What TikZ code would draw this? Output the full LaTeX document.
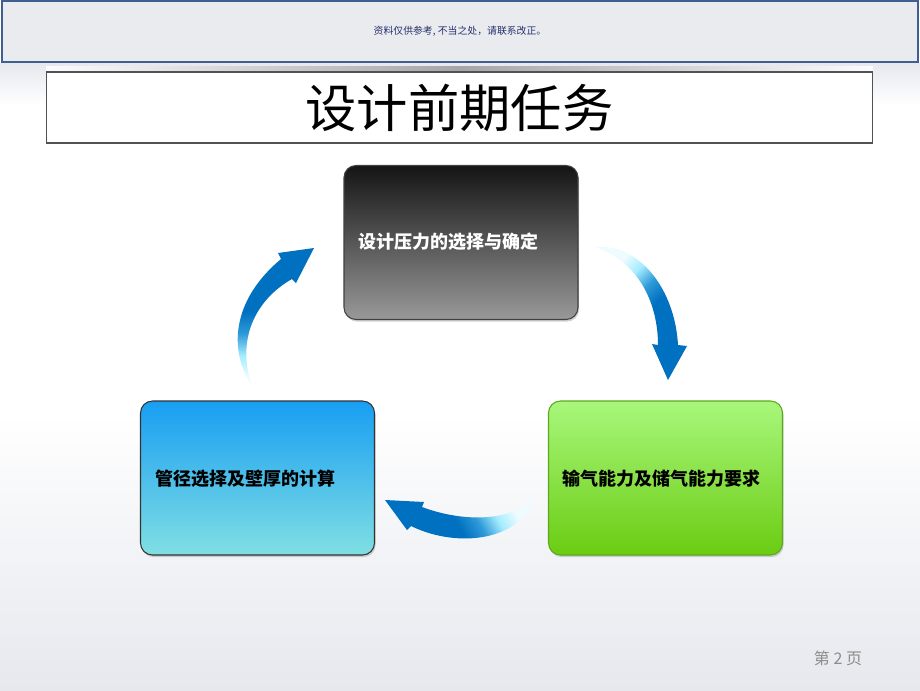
\documentclass[tikz,border=0pt]{standalone}
\usepackage{fontspec}
\newfontfamily\cjk{Noto Sans CJK SC}
\usetikzlibrary{shadows}
\definecolor{arrowblue}{HTML}{0070C0}
\definecolor{arrowmid}{HTML}{2E9AD8}
\definecolor{arrowlight}{HTML}{A6ECFF}
\definecolor{arrowpale}{HTML}{EEFCFF}
\definecolor{bgbot}{HTML}{E6E8EE}
\definecolor{headerfill}{HTML}{E9EBEF}
\definecolor{headerblue}{HTML}{3E5F90}
\definecolor{notecolor}{HTML}{26306A}
\definecolor{pagegrey}{HTML}{8C8C8C}
\pgfdeclareverticalshading{arrowshade}{100bp}{color(0bp)=(arrowblue); color(25bp)=(arrowblue); color(48bp)=(arrowblue); color(56bp)=(arrowmid); color(64bp)=(arrowlight); color(72bp)=(arrowpale); color(100bp)=(arrowpale)}
\pgfdeclareverticalshading{bgshade}{100bp}{color(0bp)=(bgbot); color(25bp)=(bgbot); color(45bp)=(white); color(100bp)=(white)}
\pgfdeclareverticalshading{titleshadow}{100bp}{color(0bp)=(black!45); color(25bp)=(black!45); color(75bp)=(black!8); color(100bp)=(black!8)}
\tikzset{
  box/.style={draw, line width=0.8pt, rounded corners=9pt, minimum width=175.5pt, minimum height=115.5pt,
    drop shadow={opacity=0.35, shadow xshift=0.8pt, shadow yshift=-1.6pt}},
  boxtext/.style={anchor=west, inner sep=0pt, font=\cjk\bfseries\fontsize{13.5}{15}\selectfont},
  blockarrow/.style={shading=arrowshade}
}
\begin{document}
\begin{tikzpicture}[x=0.75pt,y=-0.75pt]
\useasboundingbox (0,0) rectangle (920,690);
% background
\shade[shading=bgshade] (0,0) rectangle (920,690);
\shade[top color=bgbot, bottom color=white] (0,63) rectangle (920,105);
% header
\node (header) [draw=headerblue, fill=headerfill, line width=1.6pt, minimum width=687pt, minimum height=45.5pt, inner sep=0pt] at (460,31.5) {};
\node (note) [text=notecolor, font=\cjk\fontsize{7.4}{9}\selectfont, inner sep=0pt] at (460,31) {资料仅供参考, 不当之处，请联系改正。};
% title
\begin{scope}
\clip (46,64) rectangle (873,72);
\shade[left color=white, right color=white, middle color=black!35] (30,66) rectangle (890,72);
\end{scope}
\node (title) [draw=black!68, fill=white, line width=0.9pt, minimum width=620pt, minimum height=53.3pt, inner sep=0pt,
  font=\cjk\fontsize{38.5}{40}\selectfont] at (459.5,107.5) {设计前期任务};
% boxes
\node (topbox) [box, draw=black!75, top color=black!92, bottom color=black!40] at (461,242.5) {};
\node (leftbox) [box, draw=black!80, top color={rgb,255:red,24;green,158;blue,242}, bottom color={rgb,255:red,128;green,223;blue,227}] at (257.5,478) {};
\node (rightbox) [box, draw={rgb,255:red,92;green,168;blue,30}, top color={rgb,255:red,168;green,247;blue,124}, bottom color={rgb,255:red,107;green,204;blue,18}] at (665.5,478) {};
\node (toptext) [boxtext, text=white] at (358,242) {设计压力的选择与确定};
\node (lefttext) [boxtext, text=black] at (155,479) {管径选择及壁厚的计算};
\node (righttext) [boxtext, text=black] at (562,479) {输气能力及储气能力要求};
% arrows
\shade[blockarrow, shading angle=180]
  (252,386) .. controls (228,350) and (232,300) .. (281,259) -- (278,253) -- (314,248) -- (296,283) -- (292,279)
  .. controls (255,300) and (236,340) .. (252,386) -- cycle;
\shade[blockarrow, shading angle=45]
  (595,247) .. controls (640,243) and (675,290) .. (678,345) -- (687,346) -- (668,380) -- (652,344) -- (658,345)
  .. controls (658,305) and (640,262) .. (595,247) -- cycle;
\shade[blockarrow, shading angle=-60]
  (536,490) .. controls (525,520) and (470,525) .. (422,507) -- (424,502) -- (385,500) -- (407,530) -- (411,526)
  .. controls (460,550) and (528,540) .. (536,490) -- cycle;
% page number
\node (page) [text=pagegrey, font=\cjk\fontsize{12}{14}\selectfont, inner sep=0pt] at (838,658) {第 2 页};
\end{tikzpicture}
\end{document}
